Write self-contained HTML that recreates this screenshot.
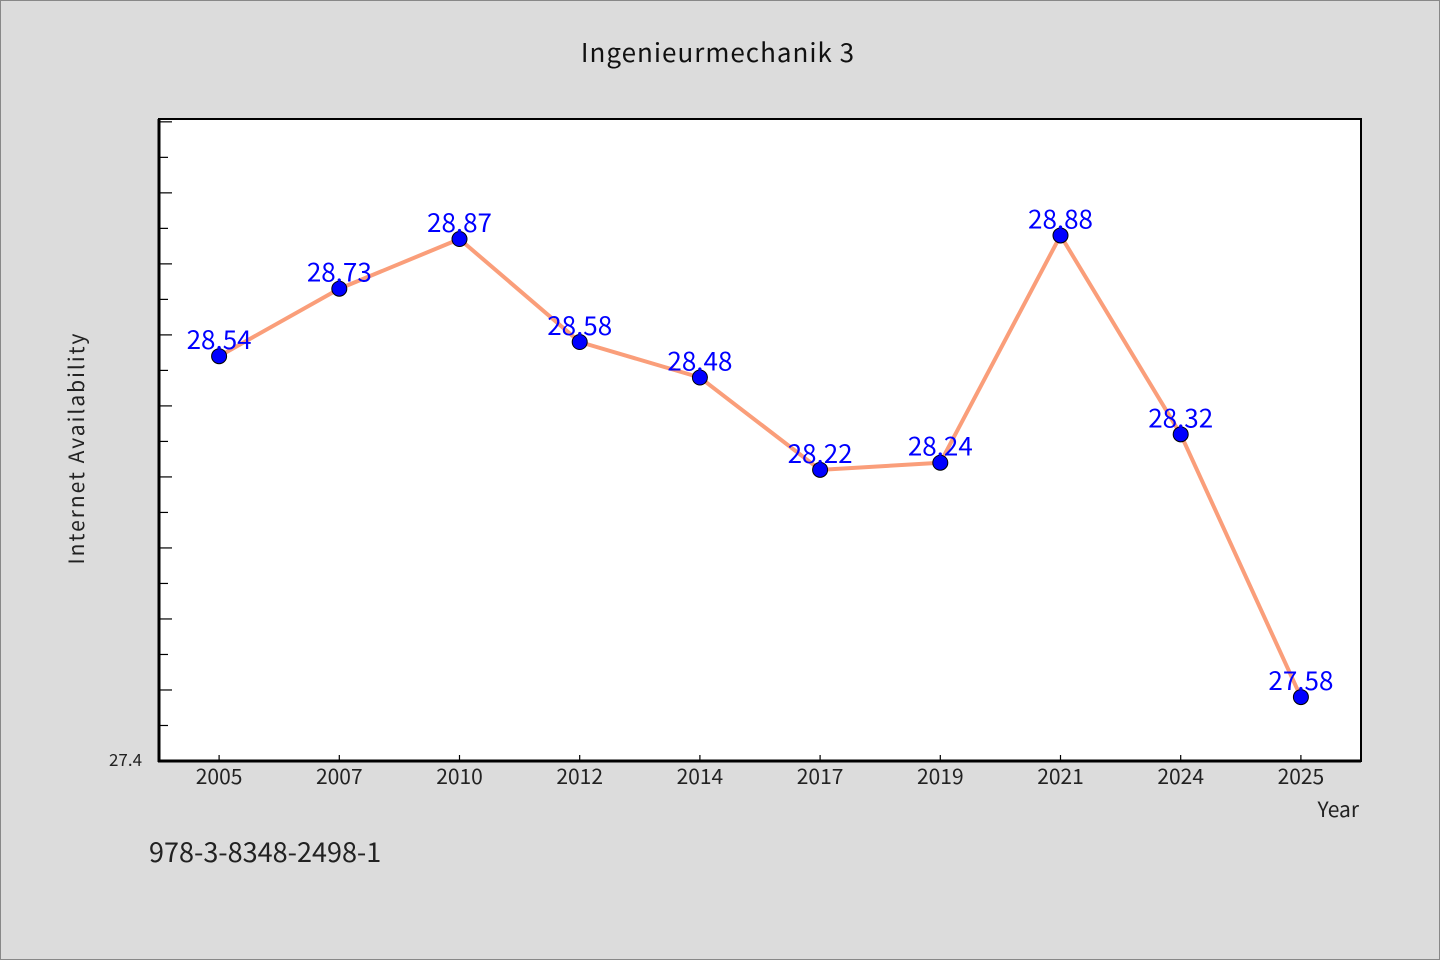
<!DOCTYPE html>
<html><head><meta charset="utf-8"><style>
html,body{margin:0;padding:0;background:#dcdcdc;}
svg{display:block;font-family:"WenQuanYi Zen Hei","Noto Sans CJK SC",sans-serif;}
</style></head><body>
<svg id="chart" width="1440" height="960">
<rect x="0.5" y="0.5" width="1439" height="959" fill="#dcdcdc" stroke="#888"/>
<text x="718" y="62" font-size="26" text-anchor="middle" fill="#111" letter-spacing="1">Ingenieurmechanik 3</text>
<rect x="159" y="119" width="1202" height="642" fill="#fff" stroke="#000" stroke-width="2"/>
<g id="yticks"></g><g id="xticks"></g>
<line x1="159" y1="119" x2="159" y2="762" stroke="#000" stroke-width="3"/>
<line x1="158" y1="761" x2="1361" y2="761" stroke="#000" stroke-width="3"/>
<text x="142" y="766" font-size="17" text-anchor="end" fill="#222">27.4</text>
<text transform="translate(84,448) rotate(-90)" font-size="21" text-anchor="middle" fill="#222" letter-spacing="2">Internet Availability</text>
<text x="1359" y="817" font-size="21" text-anchor="end" fill="#222">Year</text>
<text x="149" y="862" font-size="27" fill="#222">978-3-8348-2498-1</text>
<g id="series"></g>
</svg>
<script>
const categories=["2005","2007","2010","2012","2014","2017","2019","2021","2024","2025"];
const values=[28.54,28.73,28.87,28.58,28.48,28.22,28.24,28.88,28.32,27.58];
const yMin=27.4, yMax=29.208;
const L=159,R=1361,T=119,B=761;
const NS="http://www.w3.org/2000/svg";
const step=(R-L)/categories.length;
function x(i){return L+step*(i+0.5);}
function y(v){return B-(v-yMin)/(yMax-yMin)*(B-T);}
function mk(tag,attrs,parent){const e=document.createElementNS(NS,tag);for(const k in attrs)e.setAttribute(k,attrs[k]);parent.appendChild(e);return e;}
const yt=document.getElementById('yticks');
for(let k=1;k<=18;k++){
  const v=yMin+k*0.1;const yy=y(v);
  const len=(k%2===0)?13:9;
  const l=mk('line',{x1:L,y1:yy,x2:L+len,y2:yy,stroke:'#000','stroke-width':1.2},yt);
  
  
}
const xt=document.getElementById('xticks');
categories.forEach((c,i)=>{
  const l=mk('line',{x1:x(i),y1:B,x2:x(i),y2:B-6,stroke:'#000','stroke-width':1.2},xt);
  
  
  const t=mk('text',{x:x(i),y:B+23,'font-size':21,'text-anchor':'middle',fill:'#222'},xt);
  t.textContent=c;
  
  
});
const s=document.getElementById('series');
const pl=mk('polyline',{points:values.map((v,i)=>x(i)+','+y(v)).join(' '),fill:'none',stroke:'#fa9e7a','stroke-width':4,'stroke-linejoin':'round'},s);


values.forEach((v,i)=>{
  const c=mk('circle',{cx:x(i),cy:y(v),r:7.5,fill:'#0000ff',stroke:'#000','stroke-width':1},s);
  
  
  const t=mk('text',{x:x(i),y:y(v)-7,'font-size':26,'text-anchor':'middle',fill:'#0000ff'},s);
  t.textContent=v.toFixed(2);
  
  
});
</script>
</body></html>
